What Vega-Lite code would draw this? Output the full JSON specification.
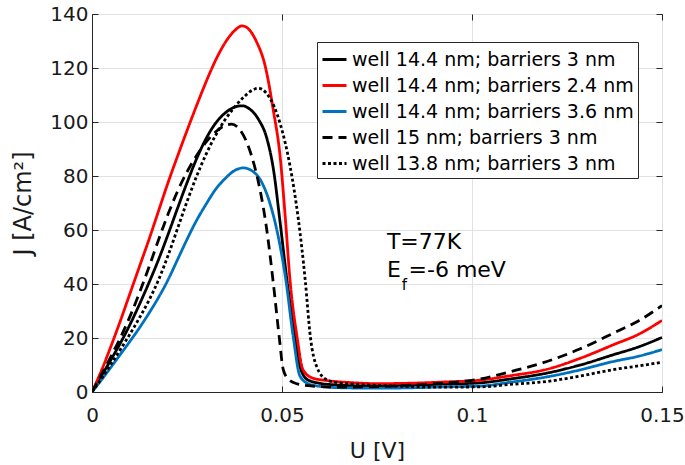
{
  "$schema": "https://vega.github.io/schema/vega-lite/v6.json",
  "width": 570,
  "height": 378,
  "autosize": "none",
  "padding": {"left": 92, "top": 14, "right": 23, "bottom": 73},
  "config": {
    "font": "DejaVu Sans",
    "view": {"stroke": "#262626", "strokeWidth": 1},
    "axis": {
      "labelFont": "DejaVu Sans", "labelFontSize": 20, "labelColor": "#1a1a1a", "labelFlush": false,
      "titleFont": "DejaVu Sans", "titleFontSize": 23, "titleFontWeight": "normal", "titleColor": "#1a1a1a",
      "domainColor": "#262626", "tickColor": "#262626", "tickSize": -6, "tickWidth": 1,
      "gridColor": "#e2e2e2", "gridWidth": 1
    }
  },
  "datasets": {
    "curves": [
      {"series": "well 14.4 nm; barriers 3 nm", "U": 0, "J": 0},
      {"series": "well 14.4 nm; barriers 3 nm", "U": 0.0025, "J": 6},
      {"series": "well 14.4 nm; barriers 3 nm", "U": 0.005, "J": 12},
      {"series": "well 14.4 nm; barriers 3 nm", "U": 0.0075, "J": 18.2},
      {"series": "well 14.4 nm; barriers 3 nm", "U": 0.01, "J": 25},
      {"series": "well 14.4 nm; barriers 3 nm", "U": 0.0125, "J": 32.5},
      {"series": "well 14.4 nm; barriers 3 nm", "U": 0.015, "J": 40.5},
      {"series": "well 14.4 nm; barriers 3 nm", "U": 0.0175, "J": 49},
      {"series": "well 14.4 nm; barriers 3 nm", "U": 0.02, "J": 58.3},
      {"series": "well 14.4 nm; barriers 3 nm", "U": 0.0225, "J": 68},
      {"series": "well 14.4 nm; barriers 3 nm", "U": 0.025, "J": 77.5},
      {"series": "well 14.4 nm; barriers 3 nm", "U": 0.0275, "J": 86.3},
      {"series": "well 14.4 nm; barriers 3 nm", "U": 0.03, "J": 93.8},
      {"series": "well 14.4 nm; barriers 3 nm", "U": 0.0325, "J": 99.5},
      {"series": "well 14.4 nm; barriers 3 nm", "U": 0.035, "J": 103.3},
      {"series": "well 14.4 nm; barriers 3 nm", "U": 0.0375, "J": 105.5},
      {"series": "well 14.4 nm; barriers 3 nm", "U": 0.0395, "J": 106},
      {"series": "well 14.4 nm; barriers 3 nm", "U": 0.0415, "J": 104.8},
      {"series": "well 14.4 nm; barriers 3 nm", "U": 0.0438, "J": 101},
      {"series": "well 14.4 nm; barriers 3 nm", "U": 0.046, "J": 94},
      {"series": "well 14.4 nm; barriers 3 nm", "U": 0.0478, "J": 82},
      {"series": "well 14.4 nm; barriers 3 nm", "U": 0.0494, "J": 64},
      {"series": "well 14.4 nm; barriers 3 nm", "U": 0.0513, "J": 41.6},
      {"series": "well 14.4 nm; barriers 3 nm", "U": 0.0535, "J": 20},
      {"series": "well 14.4 nm; barriers 3 nm", "U": 0.0548, "J": 9},
      {"series": "well 14.4 nm; barriers 3 nm", "U": 0.0568, "J": 4.5},
      {"series": "well 14.4 nm; barriers 3 nm", "U": 0.06, "J": 3.2},
      {"series": "well 14.4 nm; barriers 3 nm", "U": 0.0634, "J": 2.7},
      {"series": "well 14.4 nm; barriers 3 nm", "U": 0.07, "J": 2.3},
      {"series": "well 14.4 nm; barriers 3 nm", "U": 0.08, "J": 2.4},
      {"series": "well 14.4 nm; barriers 3 nm", "U": 0.09, "J": 2.8},
      {"series": "well 14.4 nm; barriers 3 nm", "U": 0.1022, "J": 3.4},
      {"series": "well 14.4 nm; barriers 3 nm", "U": 0.11, "J": 4.8},
      {"series": "well 14.4 nm; barriers 3 nm", "U": 0.1197, "J": 7},
      {"series": "well 14.4 nm; barriers 3 nm", "U": 0.1285, "J": 10},
      {"series": "well 14.4 nm; barriers 3 nm", "U": 0.1372, "J": 13.8},
      {"series": "well 14.4 nm; barriers 3 nm", "U": 0.144, "J": 16.8},
      {"series": "well 14.4 nm; barriers 3 nm", "U": 0.15, "J": 20.2},

      {"series": "well 14.4 nm; barriers 2.4 nm", "U": 0, "J": 0},
      {"series": "well 14.4 nm; barriers 2.4 nm", "U": 0.0025, "J": 8},
      {"series": "well 14.4 nm; barriers 2.4 nm", "U": 0.005, "J": 17},
      {"series": "well 14.4 nm; barriers 2.4 nm", "U": 0.0075, "J": 26.5},
      {"series": "well 14.4 nm; barriers 2.4 nm", "U": 0.01, "J": 36.5},
      {"series": "well 14.4 nm; barriers 2.4 nm", "U": 0.0125, "J": 46.5},
      {"series": "well 14.4 nm; barriers 2.4 nm", "U": 0.015, "J": 56.5},
      {"series": "well 14.4 nm; barriers 2.4 nm", "U": 0.0175, "J": 67},
      {"series": "well 14.4 nm; barriers 2.4 nm", "U": 0.02, "J": 77.5},
      {"series": "well 14.4 nm; barriers 2.4 nm", "U": 0.0225, "J": 87.3},
      {"series": "well 14.4 nm; barriers 2.4 nm", "U": 0.025, "J": 96.8},
      {"series": "well 14.4 nm; barriers 2.4 nm", "U": 0.0275, "J": 106},
      {"series": "well 14.4 nm; barriers 2.4 nm", "U": 0.03, "J": 114.8},
      {"series": "well 14.4 nm; barriers 2.4 nm", "U": 0.0325, "J": 122.8},
      {"series": "well 14.4 nm; barriers 2.4 nm", "U": 0.035, "J": 129.3},
      {"series": "well 14.4 nm; barriers 2.4 nm", "U": 0.0375, "J": 133.8},
      {"series": "well 14.4 nm; barriers 2.4 nm", "U": 0.0395, "J": 135.6},
      {"series": "well 14.4 nm; barriers 2.4 nm", "U": 0.0415, "J": 134},
      {"series": "well 14.4 nm; barriers 2.4 nm", "U": 0.0432, "J": 130},
      {"series": "well 14.4 nm; barriers 2.4 nm", "U": 0.0456, "J": 120.6},
      {"series": "well 14.4 nm; barriers 2.4 nm", "U": 0.0477, "J": 104.5},
      {"series": "well 14.4 nm; barriers 2.4 nm", "U": 0.0495, "J": 87.3},
      {"series": "well 14.4 nm; barriers 2.4 nm", "U": 0.0509, "J": 64},
      {"series": "well 14.4 nm; barriers 2.4 nm", "U": 0.0521, "J": 41.6},
      {"series": "well 14.4 nm; barriers 2.4 nm", "U": 0.054, "J": 20},
      {"series": "well 14.4 nm; barriers 2.4 nm", "U": 0.0555, "J": 8.3},
      {"series": "well 14.4 nm; barriers 2.4 nm", "U": 0.058, "J": 5.2},
      {"series": "well 14.4 nm; barriers 2.4 nm", "U": 0.062, "J": 4.2},
      {"series": "well 14.4 nm; barriers 2.4 nm", "U": 0.068, "J": 3.5},
      {"series": "well 14.4 nm; barriers 2.4 nm", "U": 0.075, "J": 3.1},
      {"series": "well 14.4 nm; barriers 2.4 nm", "U": 0.085, "J": 3.3},
      {"series": "well 14.4 nm; barriers 2.4 nm", "U": 0.0925, "J": 3.7},
      {"series": "well 14.4 nm; barriers 2.4 nm", "U": 0.1022, "J": 4.4},
      {"series": "well 14.4 nm; barriers 2.4 nm", "U": 0.11, "J": 6},
      {"series": "well 14.4 nm; barriers 2.4 nm", "U": 0.1197, "J": 8.4},
      {"series": "well 14.4 nm; barriers 2.4 nm", "U": 0.1285, "J": 12.5},
      {"series": "well 14.4 nm; barriers 2.4 nm", "U": 0.1372, "J": 17.5},
      {"series": "well 14.4 nm; barriers 2.4 nm", "U": 0.144, "J": 21.5},
      {"series": "well 14.4 nm; barriers 2.4 nm", "U": 0.15, "J": 26.5},

      {"series": "well 14.4 nm; barriers 3.6 nm", "U": 0, "J": 0},
      {"series": "well 14.4 nm; barriers 3.6 nm", "U": 0.0025, "J": 4.5},
      {"series": "well 14.4 nm; barriers 3.6 nm", "U": 0.005, "J": 9.2},
      {"series": "well 14.4 nm; barriers 3.6 nm", "U": 0.0075, "J": 14},
      {"series": "well 14.4 nm; barriers 3.6 nm", "U": 0.01, "J": 18.8},
      {"series": "well 14.4 nm; barriers 3.6 nm", "U": 0.0125, "J": 23.8},
      {"series": "well 14.4 nm; barriers 3.6 nm", "U": 0.015, "J": 29.2},
      {"series": "well 14.4 nm; barriers 3.6 nm", "U": 0.0175, "J": 35},
      {"series": "well 14.4 nm; barriers 3.6 nm", "U": 0.02, "J": 41.5},
      {"series": "well 14.4 nm; barriers 3.6 nm", "U": 0.0225, "J": 49},
      {"series": "well 14.4 nm; barriers 3.6 nm", "U": 0.025, "J": 56.5},
      {"series": "well 14.4 nm; barriers 3.6 nm", "U": 0.0275, "J": 63.5},
      {"series": "well 14.4 nm; barriers 3.6 nm", "U": 0.03, "J": 69.5},
      {"series": "well 14.4 nm; barriers 3.6 nm", "U": 0.0325, "J": 75},
      {"series": "well 14.4 nm; barriers 3.6 nm", "U": 0.035, "J": 79},
      {"series": "well 14.4 nm; barriers 3.6 nm", "U": 0.0375, "J": 82},
      {"series": "well 14.4 nm; barriers 3.6 nm", "U": 0.0398, "J": 83},
      {"series": "well 14.4 nm; barriers 3.6 nm", "U": 0.042, "J": 82},
      {"series": "well 14.4 nm; barriers 3.6 nm", "U": 0.0443, "J": 78.6},
      {"series": "well 14.4 nm; barriers 3.6 nm", "U": 0.0468, "J": 70},
      {"series": "well 14.4 nm; barriers 3.6 nm", "U": 0.0488, "J": 59},
      {"series": "well 14.4 nm; barriers 3.6 nm", "U": 0.051, "J": 41.6},
      {"series": "well 14.4 nm; barriers 3.6 nm", "U": 0.053, "J": 20},
      {"series": "well 14.4 nm; barriers 3.6 nm", "U": 0.0547, "J": 6},
      {"series": "well 14.4 nm; barriers 3.6 nm", "U": 0.057, "J": 3},
      {"series": "well 14.4 nm; barriers 3.6 nm", "U": 0.059, "J": 2.3},
      {"series": "well 14.4 nm; barriers 3.6 nm", "U": 0.065, "J": 1.6},
      {"series": "well 14.4 nm; barriers 3.6 nm", "U": 0.075, "J": 1.4},
      {"series": "well 14.4 nm; barriers 3.6 nm", "U": 0.085, "J": 1.6},
      {"series": "well 14.4 nm; barriers 3.6 nm", "U": 0.0925, "J": 1.9},
      {"series": "well 14.4 nm; barriers 3.6 nm", "U": 0.1022, "J": 2.2},
      {"series": "well 14.4 nm; barriers 3.6 nm", "U": 0.11, "J": 3.6},
      {"series": "well 14.4 nm; barriers 3.6 nm", "U": 0.1197, "J": 5.6},
      {"series": "well 14.4 nm; barriers 3.6 nm", "U": 0.1285, "J": 8.2},
      {"series": "well 14.4 nm; barriers 3.6 nm", "U": 0.1372, "J": 11.3},
      {"series": "well 14.4 nm; barriers 3.6 nm", "U": 0.144, "J": 13.3},
      {"series": "well 14.4 nm; barriers 3.6 nm", "U": 0.15, "J": 15.7},

      {"series": "well 15 nm; barriers 3 nm", "U": 0, "J": 0},
      {"series": "well 15 nm; barriers 3 nm", "U": 0.0025, "J": 6.5},
      {"series": "well 15 nm; barriers 3 nm", "U": 0.005, "J": 13.2},
      {"series": "well 15 nm; barriers 3 nm", "U": 0.0075, "J": 20.2},
      {"series": "well 15 nm; barriers 3 nm", "U": 0.01, "J": 28},
      {"series": "well 15 nm; barriers 3 nm", "U": 0.0125, "J": 36.8},
      {"series": "well 15 nm; barriers 3 nm", "U": 0.015, "J": 46.3},
      {"series": "well 15 nm; barriers 3 nm", "U": 0.0175, "J": 56.3},
      {"series": "well 15 nm; barriers 3 nm", "U": 0.02, "J": 65.8},
      {"series": "well 15 nm; barriers 3 nm", "U": 0.0225, "J": 74.3},
      {"series": "well 15 nm; barriers 3 nm", "U": 0.025, "J": 81.5},
      {"series": "well 15 nm; barriers 3 nm", "U": 0.0275, "J": 87.5},
      {"series": "well 15 nm; barriers 3 nm", "U": 0.03, "J": 92.5},
      {"series": "well 15 nm; barriers 3 nm", "U": 0.0325, "J": 96.3},
      {"series": "well 15 nm; barriers 3 nm", "U": 0.035, "J": 98.7},
      {"series": "well 15 nm; barriers 3 nm", "U": 0.0367, "J": 99.2},
      {"series": "well 15 nm; barriers 3 nm", "U": 0.0387, "J": 97.5},
      {"series": "well 15 nm; barriers 3 nm", "U": 0.041, "J": 91.5},
      {"series": "well 15 nm; barriers 3 nm", "U": 0.0427, "J": 84},
      {"series": "well 15 nm; barriers 3 nm", "U": 0.0442, "J": 75},
      {"series": "well 15 nm; barriers 3 nm", "U": 0.0458, "J": 62},
      {"series": "well 15 nm; barriers 3 nm", "U": 0.0477, "J": 40.5},
      {"series": "well 15 nm; barriers 3 nm", "U": 0.0493, "J": 20},
      {"series": "well 15 nm; barriers 3 nm", "U": 0.0503, "J": 8.5},
      {"series": "well 15 nm; barriers 3 nm", "U": 0.0518, "J": 4.6},
      {"series": "well 15 nm; barriers 3 nm", "U": 0.054, "J": 3},
      {"series": "well 15 nm; barriers 3 nm", "U": 0.058, "J": 2.2},
      {"series": "well 15 nm; barriers 3 nm", "U": 0.065, "J": 1.8},
      {"series": "well 15 nm; barriers 3 nm", "U": 0.075, "J": 2},
      {"series": "well 15 nm; barriers 3 nm", "U": 0.085, "J": 2.6},
      {"series": "well 15 nm; barriers 3 nm", "U": 0.0925, "J": 3.3},
      {"series": "well 15 nm; barriers 3 nm", "U": 0.1022, "J": 4.8},
      {"series": "well 15 nm; barriers 3 nm", "U": 0.11, "J": 7.5},
      {"series": "well 15 nm; barriers 3 nm", "U": 0.1197, "J": 11.3},
      {"series": "well 15 nm; barriers 3 nm", "U": 0.1285, "J": 16},
      {"series": "well 15 nm; barriers 3 nm", "U": 0.1372, "J": 21.8},
      {"series": "well 15 nm; barriers 3 nm", "U": 0.144, "J": 26.5},
      {"series": "well 15 nm; barriers 3 nm", "U": 0.15, "J": 32},

      {"series": "well 13.8 nm; barriers 3 nm", "U": 0, "J": 0},
      {"series": "well 13.8 nm; barriers 3 nm", "U": 0.0025, "J": 5},
      {"series": "well 13.8 nm; barriers 3 nm", "U": 0.005, "J": 10.3},
      {"series": "well 13.8 nm; barriers 3 nm", "U": 0.0075, "J": 15.8},
      {"series": "well 13.8 nm; barriers 3 nm", "U": 0.01, "J": 21.5},
      {"series": "well 13.8 nm; barriers 3 nm", "U": 0.0125, "J": 27.5},
      {"series": "well 13.8 nm; barriers 3 nm", "U": 0.015, "J": 34},
      {"series": "well 13.8 nm; barriers 3 nm", "U": 0.0175, "J": 41.5},
      {"series": "well 13.8 nm; barriers 3 nm", "U": 0.02, "J": 50.5},
      {"series": "well 13.8 nm; barriers 3 nm", "U": 0.0225, "J": 60.5},
      {"series": "well 13.8 nm; barriers 3 nm", "U": 0.025, "J": 70.5},
      {"series": "well 13.8 nm; barriers 3 nm", "U": 0.0275, "J": 79.8},
      {"series": "well 13.8 nm; barriers 3 nm", "U": 0.03, "J": 88},
      {"series": "well 13.8 nm; barriers 3 nm", "U": 0.0325, "J": 95},
      {"series": "well 13.8 nm; barriers 3 nm", "U": 0.035, "J": 100.8},
      {"series": "well 13.8 nm; barriers 3 nm", "U": 0.0375, "J": 105.5},
      {"series": "well 13.8 nm; barriers 3 nm", "U": 0.04, "J": 109.3},
      {"series": "well 13.8 nm; barriers 3 nm", "U": 0.0423, "J": 111.9},
      {"series": "well 13.8 nm; barriers 3 nm", "U": 0.0438, "J": 112.5},
      {"series": "well 13.8 nm; barriers 3 nm", "U": 0.046, "J": 110.5},
      {"series": "well 13.8 nm; barriers 3 nm", "U": 0.048, "J": 105.5},
      {"series": "well 13.8 nm; barriers 3 nm", "U": 0.0497, "J": 98.5},
      {"series": "well 13.8 nm; barriers 3 nm", "U": 0.0521, "J": 83.8},
      {"series": "well 13.8 nm; barriers 3 nm", "U": 0.0543, "J": 64},
      {"series": "well 13.8 nm; barriers 3 nm", "U": 0.0561, "J": 41.6},
      {"series": "well 13.8 nm; barriers 3 nm", "U": 0.0575, "J": 20},
      {"series": "well 13.8 nm; barriers 3 nm", "U": 0.0591, "J": 9.5},
      {"series": "well 13.8 nm; barriers 3 nm", "U": 0.0618, "J": 4.5},
      {"series": "well 13.8 nm; barriers 3 nm", "U": 0.065, "J": 3.4},
      {"series": "well 13.8 nm; barriers 3 nm", "U": 0.07, "J": 2.8},
      {"series": "well 13.8 nm; barriers 3 nm", "U": 0.08, "J": 2.2},
      {"series": "well 13.8 nm; barriers 3 nm", "U": 0.09, "J": 1.8},
      {"series": "well 13.8 nm; barriers 3 nm", "U": 0.1022, "J": 1.9},
      {"series": "well 13.8 nm; barriers 3 nm", "U": 0.11, "J": 2.8},
      {"series": "well 13.8 nm; barriers 3 nm", "U": 0.1197, "J": 3.9},
      {"series": "well 13.8 nm; barriers 3 nm", "U": 0.1285, "J": 5.9},
      {"series": "well 13.8 nm; barriers 3 nm", "U": 0.1372, "J": 8.3},
      {"series": "well 13.8 nm; barriers 3 nm", "U": 0.144, "J": 9.7},
      {"series": "well 13.8 nm; barriers 3 nm", "U": 0.15, "J": 11}
    ],
    "notes": [
      {"U": 0.0776, "J": 53.1, "label": "T=77K"},
      {"U": 0.0776, "J": 42.6, "label": "E"},
      {"U": 0.0833, "J": 42.6, "label": "=-6 meV"}
    ],
    "subs": [
      {"U": 0.0815, "J": 37.9, "label": "f"}
    ]
  },
  "resolve": {"axis": {"x": "independent", "y": "independent"}},
  "layer": [
    {
      "data": {"name": "curves"},
      "mark": {"type": "line", "interpolate": "monotone", "strokeWidth": 2.8, "clip": true},
      "encoding": {
        "x": {
          "field": "U", "type": "quantitative",
          "scale": {"domain": [0, 0.15], "nice": false, "zero": false},
          "axis": {"orient": "bottom", "values": [0, 0.05, 0.1, 0.15], "format": ".2~g", "title": "U [V]", "titleFontSize": 22, "labelPadding": 19, "titlePadding": 15, "grid": true}
        },
        "y": {
          "field": "J", "type": "quantitative",
          "scale": {"domain": [0, 140], "nice": false},
          "axis": {"orient": "left", "values": [0, 20, 40, 60, 80, 100, 120, 140], "title": "J [A/cm²]", "titleFontSize": 24, "labelPadding": 10, "titlePadding": 14, "grid": true}
        },
        "color": {
          "field": "series", "type": "nominal",
          "scale": {
            "domain": ["well 14.4 nm; barriers 3 nm", "well 14.4 nm; barriers 2.4 nm", "well 14.4 nm; barriers 3.6 nm", "well 15 nm; barriers 3 nm", "well 13.8 nm; barriers 3 nm"],
            "range": ["#000000", "#ff0000", "#0072bd", "#000000", "#000000"]
          },
          "legend": {
            "title": null, "orient": "none", "legendX": 225, "legendY": 28,
            "symbolType": "stroke", "symbolSize": 576, "symbolStrokeWidth": 3,
            "labelFont": "DejaVu Sans", "labelFontSize": 19, "labelColor": "#000000", "labelOffset": 4, "labelLimit": 400,
            "rowPadding": 2, "padding": 4, "strokeColor": "#262626", "fillColor": "#ffffff", "cornerRadius": 0
          }
        },
        "strokeDash": {
          "field": "series", "type": "nominal",
          "scale": {
            "domain": ["well 14.4 nm; barriers 3 nm", "well 14.4 nm; barriers 2.4 nm", "well 14.4 nm; barriers 3.6 nm", "well 15 nm; barriers 3 nm", "well 13.8 nm; barriers 3 nm"],
            "range": [[1, 0], [1, 0], [1, 0], [10, 6], [3, 2.5]]
          },
          "legend": {
            "title": null, "orient": "none", "legendX": 225, "legendY": 28,
            "symbolType": "stroke", "symbolSize": 576, "symbolStrokeWidth": 3,
            "labelFont": "DejaVu Sans", "labelFontSize": 19, "labelColor": "#000000", "labelOffset": 4, "labelLimit": 400,
            "rowPadding": 2, "padding": 4, "strokeColor": "#262626", "fillColor": "#ffffff", "cornerRadius": 0
          }
        }
      }
    },
    {
      "data": {"name": "notes"},
      "mark": {"type": "text", "align": "left", "baseline": "alphabetic", "fontSize": 22, "font": "DejaVu Sans", "color": "#000000"},
      "encoding": {
        "x": {"field": "U", "type": "quantitative", "axis": {"orient": "top", "values": [0, 0.05, 0.1, 0.15], "labels": false, "title": null, "grid": false, "domain": false}},
        "y": {"field": "J", "type": "quantitative", "axis": {"orient": "right", "values": [0, 20, 40, 60, 80, 100, 120, 140], "labels": false, "title": null, "grid": false, "domain": false}},
        "text": {"field": "label", "type": "nominal"}
      }
    },
    {
      "data": {"name": "subs"},
      "mark": {"type": "text", "align": "left", "baseline": "alphabetic", "fontSize": 15, "font": "DejaVu Sans", "color": "#000000"},
      "encoding": {
        "x": {"field": "U", "type": "quantitative", "axis": null},
        "y": {"field": "J", "type": "quantitative", "axis": null},
        "text": {"field": "label", "type": "nominal"}
      }
    }
  ]
}
